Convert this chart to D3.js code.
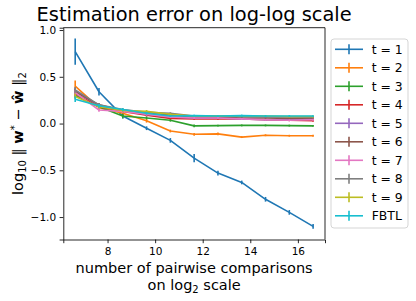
<!DOCTYPE html>
<meta charset="utf-8">
<title>estimation error</title>
<style>
body { margin: 0; background: #fff; }
text { font-family: "DejaVu Sans", sans-serif; fill: #000; }
.axis .domain { stroke: #000; stroke-width: 0.85; }
.axis line { stroke: #000; stroke-width: 0.85; }
.axis text { font-size: 10.5px; }
</style>
<svg width="416" height="301"></svg>
<script src="https://d3js.org/d3.v7.min.js"></script>
<script>
// log2 of number of pairwise comparisons
var xs = [6.64, 7.64, 8.64, 9.64, 10.64, 11.64, 12.64, 13.64, 14.64, 15.64, 16.64];
var names = ["t = 1", "t = 2", "t = 3", "t = 4", "t = 5", "t = 6", "t = 7", "t = 8", "t = 9", "FBTL"];
var colors = ["#1f77b4", "#ff7f0e", "#2ca02c", "#d62728", "#9467bd", "#8c564b", "#e377c2", "#7f7f7f", "#bcbd22", "#17becf"];

var t1 = [0.77, 0.34, 0.08, -0.05, -0.18, -0.37, -0.53, -0.63, -0.81, -0.95, -1.10];
var t2 = [0.40, 0.17, 0.11, 0.03, -0.08, -0.115, -0.11, -0.145, -0.125, -0.13, -0.13];
var t3 = [0.30, 0.18, 0.08, 0.06, 0.035, -0.025, -0.022, -0.02, -0.02, -0.022, -0.025];
var t4 = [0.32, 0.18, 0.13, 0.09, 0.055, 0.05, 0.05, 0.048, 0.04, 0.035, 0.03];
var t5 = [0.35, 0.19, 0.14, 0.10, 0.07, 0.06, 0.06, 0.05, 0.04, 0.045, 0.05];
var t6 = [0.34, 0.20, 0.14, 0.11, 0.09, 0.07, 0.07, 0.06, 0.06, 0.055, 0.06];
var t7 = [0.33, 0.145, 0.13, 0.10, 0.07, 0.06, 0.06, 0.05, 0.04, 0.035, 0.04];
var t8 = [0.36, 0.20, 0.15, 0.12, 0.11, 0.08, 0.08, 0.075, 0.07, 0.07, 0.07];
var t9 = [0.29, 0.18, 0.14, 0.13, 0.10, 0.08, 0.08, 0.08, 0.08, 0.075, 0.075];
var fbtl = [0.26, 0.19, 0.15, 0.11, 0.08, 0.085, 0.08, 0.085, 0.08, 0.08, 0.08];

// error bar half-lengths
var e1 = [0.14, 0.04, 0.025, 0.02, 0.025, 0.045, 0.025, 0.02, 0.025, 0.025, 0.025];
var e2 = [0.06, 0.025, 0.02, 0.02, 0.015, 0.015, 0.015, 0.01, 0.01, 0.01, 0.01];
var e3 = [0.03, 0.02, 0.025, 0.015, 0.015, 0.015, 0.01, 0.01, 0.01, 0.01, 0.01];
var eo = [0.03, 0.02, 0.015, 0.015, 0.01, 0.01, 0.01, 0.01, 0.01, 0.01, 0.01];

var ticksX = [8, 10, 12, 14, 16];
var ticksY = [-1.0, -0.5, 0.0, 0.5, 1.0];

var series = [t1, t2, t3, t4, t5, t6, t7, t8, t9, fbtl];
var errs = [e1, e2, e3, eo, eo, eo, eo, eo, eo, eo];

var svg = d3.select("svg");
var axL = 63.3, axR = 325, axT = 27.7, axB = 239.5;

var x = d3.scaleLinear().domain([6.14, 17.14]).range([axL, axR]);
var y = d3.scaleLinear().domain([-1.24, 1.025]).range([axB, axT]);

var g = svg.append("g");

series.forEach(function(vals, i) {
  var pts = vals.map(function(v, j) { return {x: xs[j], y: v, e: errs[i][j]}; });
  var s = g.append("g").attr("stroke", colors[i]).attr("fill", "none").attr("stroke-width", 1.6);
  s.selectAll("line")
    .data(pts)
    .enter().append("line")
    .attr("x1", function(d) { return x(d.x); })
    .attr("x2", function(d) { return x(d.x); })
    .attr("y1", function(d) { return y(d.y - d.e); })
    .attr("y2", function(d) { return y(d.y + d.e); });
  s.append("path")
    .attr("stroke-linejoin", "round")
    .attr("d", d3.line().x(function(d) { return x(d.x); }).y(function(d) { return y(d.y); })(pts));
});

g.append("g")
  .attr("class", "axis")
  .attr("transform", "translate(0," + axB + ")")
  .call(d3.axisBottom(x).tickValues(ticksX).tickSize(3.7).tickPadding(3.5).tickFormat(d3.format("d")))
  .selectAll("text").attr("dy", "0.75em");

g.append("g")
  .attr("class", "axis")
  .attr("transform", "translate(" + axL + ",0)")
  .call(d3.axisLeft(y).tickValues(ticksY).tickSize(3.7).tickPadding(3.5).tickFormat(function(d) { return d3.format(".1f")(d).replace("-", "\u2212"); }));

// top and right spines
g.append("line").attr("x1", axL).attr("x2", axR).attr("y1", axT).attr("y2", axT).attr("stroke", "#000").attr("stroke-width", 0.85);
g.append("line").attr("x1", axR).attr("x2", axR).attr("y1", axT).attr("y2", axB).attr("stroke", "#000").attr("stroke-width", 0.85);

// title
svg.append("text")
  .attr("x", (axL + axR) / 2)
  .attr("y", 20.5)
  .attr("text-anchor", "middle")
  .style("font-size", "19.4px")
  .text("Estimation error on log-log scale");

// x label
var xl = svg.append("text")
  .attr("text-anchor", "middle")
  .style("font-size", "14.5px");
xl.append("tspan").attr("x", (axL + axR) / 2).attr("y", 273).text("number of pairwise comparisons");
var l2 = xl.append("tspan").attr("x", (axL + axR) / 2).attr("y", 289.5);
l2.append("tspan").text("on log");
l2.append("tspan").attr("dy", 3.5).style("font-size", "10px").text("2");
l2.append("tspan").attr("dy", -3.5).text(" scale");

// y label
var yl = svg.append("text")
  .attr("transform", "translate(22.5," + ((axT + axB) / 2) + ") rotate(-90)")
  .attr("text-anchor", "middle")
  .style("font-size", "14.5px");
yl.append("tspan").text("log");
yl.append("tspan").attr("dy", 3.5).style("font-size", "10px").text("10");
yl.append("tspan").attr("dy", -3.5).text(" \u2016 ");
yl.append("tspan").style("font-weight", "bold").text("w");
yl.append("tspan").attr("dy", -5).style("font-size", "10px").text("*");
yl.append("tspan").attr("dy", 5).text(" \u2212 ");
yl.append("tspan").style("font-weight", "bold").text("\u0175");
yl.append("tspan").text(" \u2016");
yl.append("tspan").attr("dy", 3.5).style("font-size", "10px").text("2");

// legend
var lg = svg.append("g");
lg.append("rect")
  .attr("x", 331).attr("y", 39)
  .attr("width", 77).attr("height", 189)
  .attr("rx", 3)
  .attr("fill", "#fff").attr("fill-opacity", 0.8)
  .attr("stroke", "#d0d0d0").attr("stroke-width", 0.9);

var item = lg.selectAll("g.item")
  .data(names)
  .enter().append("g")
  .attr("class", "item")
  .attr("transform", function(d, i) { return "translate(0," + (49.3 + i * 18.5) + ")"; });

item.append("line")
  .attr("x1", 335).attr("x2", 363).attr("y1", 0).attr("y2", 0)
  .attr("stroke", function(d, i) { return colors[i]; }).attr("stroke-width", 1.6);
item.append("line")
  .attr("x1", 349).attr("x2", 349).attr("y1", -5).attr("y2", 5)
  .attr("stroke", function(d, i) { return colors[i]; }).attr("stroke-width", 1.6);
item.append("text")
  .attr("x", 371.7).attr("y", 4.5)
  .style("font-size", "12.4px")
  .text(function(d) { return d; });
</script>
